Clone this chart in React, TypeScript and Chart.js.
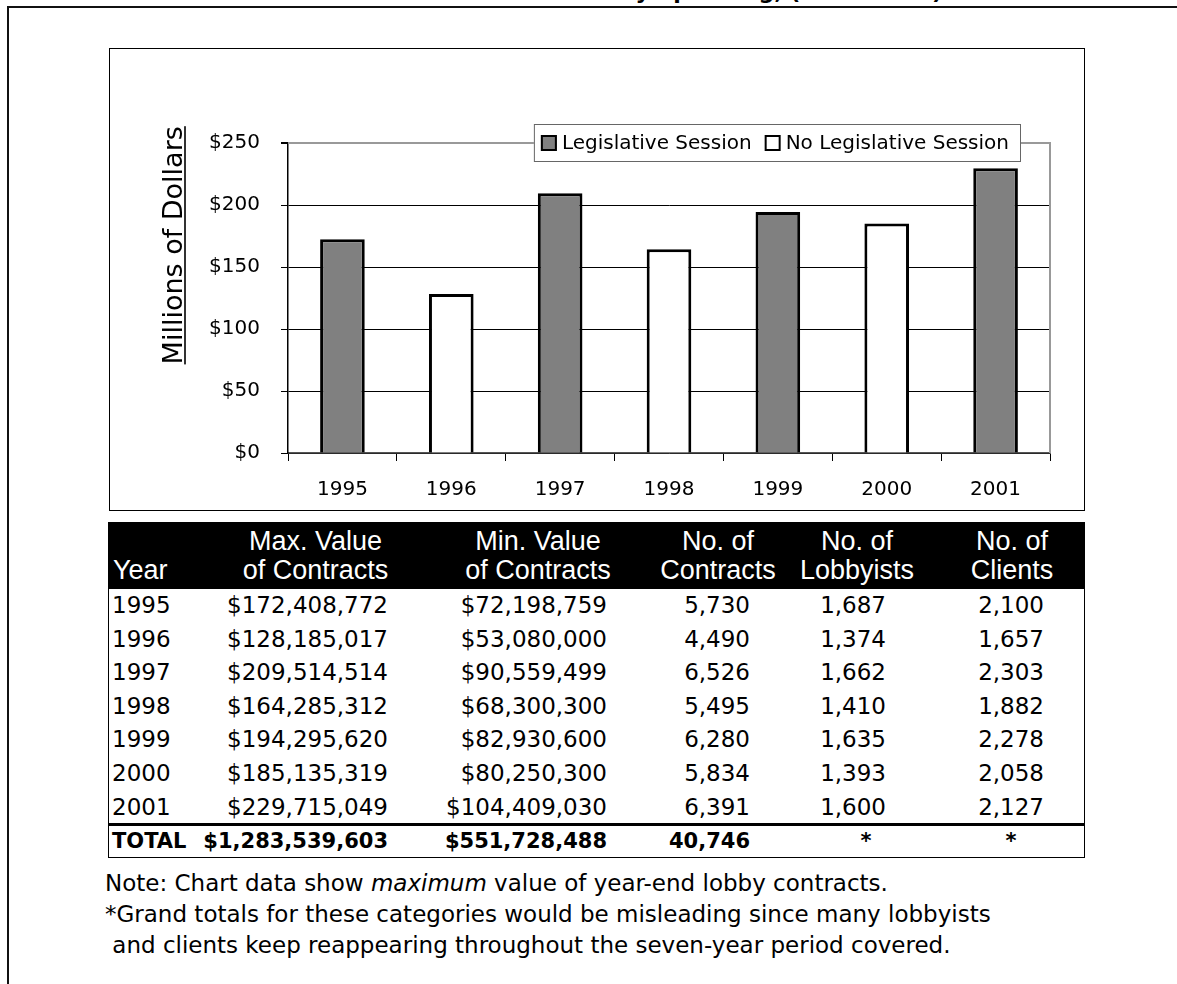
import React, { useEffect, useRef } from 'react';
import { Chart, registerables } from 'chart.js';

Chart.register(...registerables);

// ---------- data ----------
const years = ['1995', '1996', '1997', '1998', '1999', '2000', '2001'];
const legislativeSession = [true, false, true, false, true, false, true];
const maxValues = [172408772, 128185017, 209514514, 164285312, 194295620, 185135319, 229715049];
const minValues = [72198759, 53080000, 90559499, 68300300, 82930600, 80250300, 104409030];
const contractCounts = [5730, 4490, 6526, 5495, 6280, 5834, 6391];
const lobbyistCounts = [1687, 1374, 1662, 1410, 1635, 1393, 1600];
const clientCounts = [2100, 1657, 2303, 1882, 2278, 2058, 2127];
const totalRow = ['TOTAL', '$1,283,539,603', '$551,728,488', '40,746', '*', '*'];
const yTickValues = [0, 50, 100, 150, 200, 250];
const seriesLabels = ['Legislative Session', 'No Legislative Session'];
const headerLine1 = ['', 'Max. Value', 'Min. Value', 'No. of', 'No. of', 'No. of'];
const headerLine2 = ['Year', 'of Contracts', 'of Contracts', 'Contracts', 'Lobbyists', 'Clients'];
const yAxisTitle = 'Millions of Dollars';
const titleText = 'Lobby Spending, (1995-2001)';

// ---------- layout ----------
const W = 1177;
const FONT = '"DejaVu Sans", sans-serif';
const HEAD_FONT = '"Liberation Sans", Arial, sans-serif';
const colRight = [0, 388, 607, 750, 886, 1044];
const headCenter = [0, 315.5, 538, 718, 857, 1012];
const starCenter = [0, 0, 0, 0, 866, 1011];
const yearLeft = 112;
const tableLeft = 108;
const tableRight = 1085;
const headTop = 522;
const headBottom = 589;
const rowH = 33.6;
const BODY_SIZE = 23;
const TOTAL_SIZE = 21;
const HEAD_SIZE = 27;

const money = (v: number) => '$' + v.toLocaleString('en-US');
const num = (v: number) => v.toLocaleString('en-US');

const overlayPlugin = {
  id: 'overlay',
  beforeDatasetsDraw(chart: any) {
    const { ctx, chartArea: a } = chart;
    ctx.save();
    ctx.strokeStyle = '#999';
    ctx.lineWidth = 2;
    ctx.beginPath();
    ctx.moveTo(a.left, a.top);
    ctx.lineTo(a.right, a.top);
    ctx.lineTo(a.right, a.bottom);
    ctx.stroke();
    ctx.restore();
  },
  afterDraw(chart: any) {
    const { ctx, chartArea: a } = chart;
    // y axis title (rotated, underlined)
    ctx.save();
    ctx.font = `27px ${FONT}`;
    const bx = a.left - 106.3;
    const cy = a.top + 102.3;
    ctx.translate(bx, cy);
    ctx.rotate(-Math.PI / 2);
    ctx.fillStyle = '#000';
    ctx.textAlign = 'center';
    ctx.textBaseline = 'alphabetic';
    ctx.fillText(yAxisTitle, 0, 0);
    const tw = ctx.measureText(yAxisTitle).width;
    ctx.fillRect(-tw / 2, 2.5, tw, 1.6);
    ctx.restore();

    // legend box
    ctx.save();
    ctx.font = `20px ${FONT}`;
    const items = chart.data.datasets.map((ds: any) => ({ label: ds.label, fill: ds.backgroundColor }));
    const widths = items.map((it: any) => ctx.measureText(it.label).width);
    const padL = 7, sq = 16, gapT = 5, gapI = 13, padR = 12;
    let total = padL + padR;
    items.forEach((_: any, i: number) => {
      total += sq + gapT + widths[i] + (i < items.length - 1 ? gapI : 0);
    });
    const right = a.right - 29;
    const left = right - total;
    const top = a.top - 19;
    const h = 38;
    ctx.fillStyle = '#fff';
    ctx.fillRect(left, top, total, h);
    ctx.strokeStyle = '#666';
    ctx.lineWidth = 1;
    ctx.strokeRect(left + 0.5, top + 0.5, total - 1, h - 1);
    let x = left + padL;
    const my = top + h / 2;
    items.forEach((it: any, i: number) => {
      ctx.fillStyle = it.fill;
      ctx.fillRect(x, my - 8, sq, sq);
      ctx.strokeStyle = '#000';
      ctx.lineWidth = 2;
      ctx.strokeRect(x + 1, my - 7, sq - 2, sq - 2);
      x += sq + gapT;
      ctx.fillStyle = '#000';
      ctx.textAlign = 'left';
      ctx.textBaseline = 'middle';
      ctx.fillText(it.label, x, my + 1);
      x += widths[i] + gapI;
    });
    ctx.restore();
  },
};

function BarChart() {
  const ref = useRef<HTMLCanvasElement>(null);
  useEffect(() => {
    if (!ref.current) return;
    const inSession = maxValues.map((v, i) => (legislativeSession[i] ? v / 1e6 : null));
    const noSession = maxValues.map((v, i) => (legislativeSession[i] ? null : v / 1e6));
    const chart = new Chart(ref.current, {
      type: 'bar',
      data: {
        labels: years,
        datasets: [
          {
            label: seriesLabels[0],
            data: inSession,
            backgroundColor: '#808080',
            borderColor: '#000',
            borderWidth: 3,
            barPercentage: 0.41,
            categoryPercentage: 1,
          },
          {
            label: seriesLabels[1],
            data: noSession,
            backgroundColor: '#ffffff',
            borderColor: '#000',
            borderWidth: 3,
            barPercentage: 0.41,
            categoryPercentage: 1,
          },
        ],
      },
      options: {
        responsive: false,
        animation: false,
        devicePixelRatio: 1,
        layout: { padding: { left: 78, right: 34, top: 94, bottom: 7 } },
        plugins: { legend: { display: false }, tooltip: { enabled: false }, title: { display: false } },
        scales: {
          x: {
            stacked: true,
            offset: true,
            grid: {
              offset: true,
              drawOnChartArea: false,
              drawTicks: true,
              tickLength: 8,
              tickColor: '#000',
              tickWidth: 1,
            },
            border: { display: true, color: '#555', width: 1.5 },
            ticks: { font: { family: FONT, size: 20 }, color: '#000', padding: 17, maxRotation: 0 },
            afterFit: (s: any) => {
              s.height = 50;
            },
          },
          y: {
            stacked: true,
            min: 0,
            max: 250,
            afterBuildTicks: (s: any) => {
              s.ticks = yTickValues.map((v) => ({ value: v }));
            },
            grid: {
              color: (c: any) => (c.tick && c.tick.value === 250 ? '#999' : '#000'),
              lineWidth: (c: any) => (c.tick && c.tick.value === 250 ? 2 : 1),
              tickLength: 7,
              tickColor: '#000',
              drawTicks: true,
            },
            border: { display: true, color: '#000', width: 1.5 },
            ticks: {
              font: { family: FONT, size: 20 },
              color: '#000',
              padding: 21,
              callback: (v: any) => '$' + v,
            },
            afterFit: (s: any) => {
              s.width = 100;
            },
          },
        },
      },
      plugins: [overlayPlugin],
    });
    return () => chart.destroy();
  }, []);
  return <canvas ref={ref} width={974} height={461} style={{ display: 'block' }} />;
}

function Txt(props: {
  text: string;
  top: number;
  h: number;
  left?: number;
  right?: number;
  center?: number;
  size: number;
  bold?: boolean;
  color?: string;
  family?: string;
}) {
  const style: React.CSSProperties = {
    position: 'absolute',
    top: props.top,
    height: props.h,
    lineHeight: `${props.h}px`,
    fontSize: props.size,
    fontWeight: props.bold ? 'bold' : 'normal',
    color: props.color || '#000',
    fontFamily: props.family || FONT,
    whiteSpace: 'pre',
  };
  if (props.center !== undefined) {
    style.left = props.center - 150;
    style.width = 300;
    style.textAlign = 'center';
  } else if (props.right !== undefined) {
    style.right = W - props.right;
    style.textAlign = 'right';
  } else {
    style.left = props.left;
    style.textAlign = 'left';
  }
  return <div style={style}>{props.text}</div>;
}

export default function App() {
  const rows = years.map((y, i) => [
    y,
    money(maxValues[i]),
    money(minValues[i]),
    num(contractCounts[i]),
    num(lobbyistCounts[i]),
    num(clientCounts[i]),
  ]);
  const bodyTop = headBottom;
  const totalTop = bodyTop + rowH * years.length;
  const bodyBottom = 858;

  return (
    <div
      style={{
        position: 'absolute',
        left: 0,
        top: 0,
        width: W,
        height: 984,
        overflow: 'hidden',
        background: '#fff',
        fontFamily: FONT,
      }}
    >
      {/* clipped title */}
      <div
        style={{
          position: 'absolute',
          left: 0,
          width: 942,
          top: -18.6,
          height: 22,
          lineHeight: '22px',
          fontSize: 22,
          fontWeight: 'bold',
          textAlign: 'right',
          whiteSpace: 'nowrap',
        }}
      >
        {titleText}
      </div>
      {/* outer frame */}
      <div
        style={{
          position: 'absolute',
          left: 7,
          top: 6,
          width: 1250,
          height: 1050,
          borderLeft: '2px solid #111',
          borderTop: '2px solid #111',
        }}
      />
      {/* chart box */}
      <div
        style={{
          position: 'absolute',
          left: 109,
          top: 48,
          width: 976,
          height: 463,
          border: '1px solid #000',
          boxSizing: 'border-box',
          background: '#fff',
        }}
      >
        <BarChart />
      </div>

      {/* table header */}
      <div
        style={{
          position: 'absolute',
          left: tableLeft,
          top: headTop,
          width: tableRight - tableLeft,
          height: headBottom - headTop,
          background: '#000',
        }}
      />
      {headerLine2.map((t, c) =>
        c === 0 ? (
          <Txt key={'h2' + c} text={t} top={555.5} h={29} left={113} size={HEAD_SIZE} color="#fff" family={HEAD_FONT} />
        ) : (
          <Txt key={'h2' + c} text={t} top={555.5} h={29} center={headCenter[c]} size={HEAD_SIZE} color="#fff" family={HEAD_FONT} />
        )
      )}
      {headerLine1.map((t, c) =>
        c === 0 ? null : (
          <Txt key={'h1' + c} text={t} top={526.5} h={29} center={headCenter[c]} size={HEAD_SIZE} color="#fff" family={HEAD_FONT} />
        )
      )}

      {/* table body frame */}
      <div
        style={{
          position: 'absolute',
          left: tableLeft,
          top: bodyTop,
          width: tableRight - tableLeft,
          height: bodyBottom - bodyTop,
          borderLeft: '1px solid #000',
          borderRight: '1px solid #000',
          borderBottom: '1px solid #000',
          boxSizing: 'border-box',
        }}
      />
      <div
        style={{
          position: 'absolute',
          left: tableLeft,
          top: totalTop - 1.5,
          width: tableRight - tableLeft,
          height: 3,
          background: '#000',
        }}
      />
      {rows.map((r, i) =>
        r.map((t, c) =>
          c === 0 ? (
            <Txt key={`r${i}c${c}`} text={t} top={bodyTop + i * rowH} h={rowH} left={yearLeft} size={BODY_SIZE} />
          ) : (
            <Txt key={`r${i}c${c}`} text={t} top={bodyTop + i * rowH} h={rowH} right={colRight[c]} size={BODY_SIZE} />
          )
        )
      )}
      {totalRow.map((t, c) => {
        const top = totalTop + 1;
        const h = bodyBottom - totalTop - 1;
        if (c === 0) return <Txt key={'t' + c} text={t} top={top} h={h} left={yearLeft} size={TOTAL_SIZE} bold />;
        if (t === '*') return <Txt key={'t' + c} text={t} top={top} h={h} center={starCenter[c]} size={TOTAL_SIZE} bold />;
        return <Txt key={'t' + c} text={t} top={top} h={h} right={colRight[c]} size={TOTAL_SIZE} bold />;
      })}

      {/* notes */}
      <div
        style={{
          position: 'absolute',
          left: 105,
          top: 867.5,
          fontSize: 23,
          lineHeight: '31px',
          fontFamily: FONT,
          whiteSpace: 'pre',
          color: '#000',
        }}
      >
        <div>
          Note: Chart data show <i>maximum</i> value of year-end lobby contracts.
        </div>
        <div>*Grand totals for these categories would be misleading since many lobbyists</div>
        <div> and clients keep reappearing throughout the seven-year period covered.</div>
      </div>
    </div>
  );
}
